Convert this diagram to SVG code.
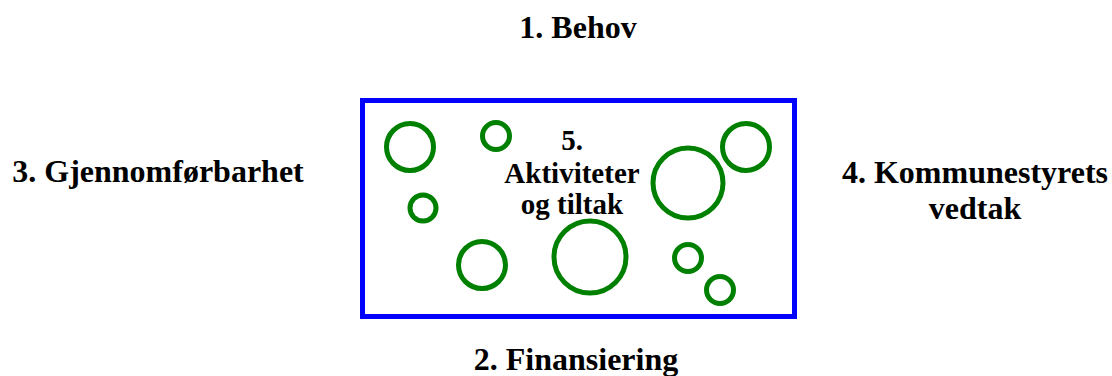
<svg xmlns="http://www.w3.org/2000/svg" width="1112" height="376" viewBox="0 0 1112 376">
<style>
.t{font-family:"Liberation Serif","Times New Roman",serif;font-weight:bold;font-size:32px;fill:#000;text-anchor:middle}
.s{font-size:29px}
.c{fill:none;stroke:#008000;stroke-width:5}
</style>
<rect width="1112" height="376" fill="#fff"/>
<g id="behov"><text class="t" x="578" y="38">1. Behov</text></g>
<g id="finansiering"><text class="t" x="576" y="370">2. Finansiering</text></g>
<g id="gjennomforbarhet"><text class="t" x="158" y="182">3. Gjennomførbarhet</text></g>
<g id="vedtak"><text class="t" x="975" y="183">4. Kommunestyrets</text><text class="t" x="975" y="219">vedtak</text></g>
<g id="aktiviteter">
<rect x="362.5" y="100.5" width="432" height="216" fill="none" stroke="#0000ff" stroke-width="5"/>
<circle class="c" cx="410" cy="147" r="23.5"/>
<circle class="c" cx="496" cy="136" r="13.5"/>
<circle class="c" cx="423" cy="208" r="13"/>
<circle class="c" cx="482" cy="265" r="23.5"/>
<circle class="c" cx="590" cy="257" r="36"/>
<circle class="c" cx="688" cy="183" r="35"/>
<circle class="c" cx="746" cy="147" r="23.5"/>
<circle class="c" cx="688" cy="258" r="13.5"/>
<circle class="c" cx="720" cy="290" r="13.5"/>
<text class="t s" x="572" y="150">5.</text>
<text class="t s" x="572" y="183">Aktiviteter</text>
<text class="t s" x="572" y="214">og tiltak</text>
</g>
</svg>
